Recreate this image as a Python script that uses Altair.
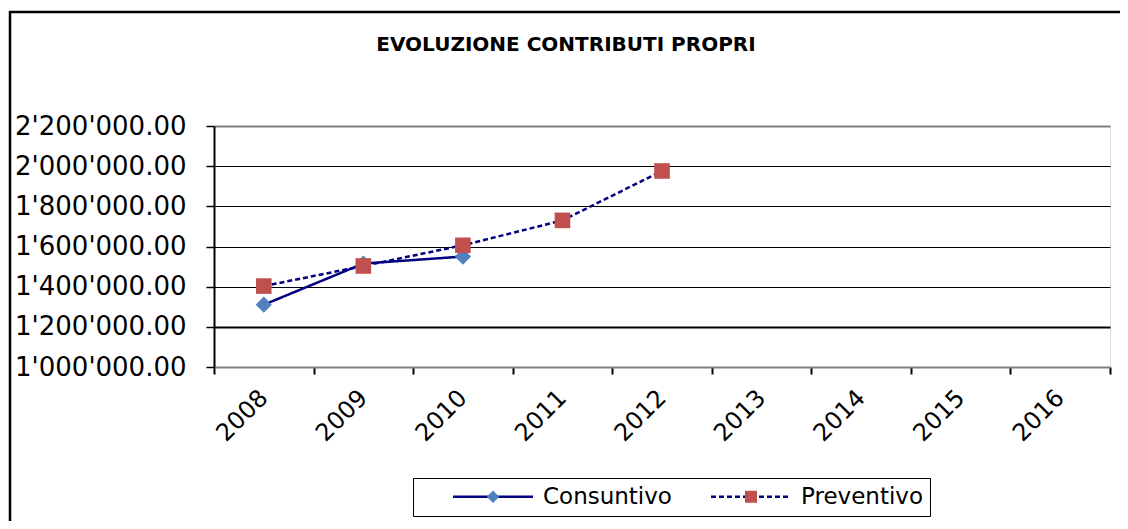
import altair as alt
import pandas as pd

years = ["2008", "2009", "2010", "2011", "2012", "2013", "2014", "2015", "2016"]
cons_years = ["2008", "2009", "2010"]
cons_values = [1310000, 1515000, 1550000]
prev_years = ["2008", "2009", "2010", "2011", "2012"]
prev_values = [1403000, 1503000, 1606000, 1730000, 1976000]
series_names = ["Consuntivo", "Preventivo"]
y_ticks = [1000000, 1200000, 1400000, 1600000, 1800000, 2000000, 2200000]
title_text = "EVOLUZIONE CONTRIBUTI PROPRI"

rows = []
for y, v in zip(cons_years, cons_values):
    rows.append({"anno": y, "valore": v, "serie": "Consuntivo"})
for y, v in zip(prev_years, prev_values):
    rows.append({"anno": y, "valore": v, "serie": "Preventivo"})
df = pd.DataFrame(rows)
df["serie2"] = df["serie"]

FONT = "DejaVu Sans"
NAVY = "#000080"

x_enc = alt.X("anno:N", scale=alt.Scale(domain=years, paddingInner=0, paddingOuter=0),
              axis=alt.Axis(title=None, labelAngle=-45, labelAlign="right", labelBaseline="middle",
                            labelFont=FONT, labelFontSize=24, labelColor="black", labelPadding=20,
                            tickBand="extent", tickColor="black", tickWidth=2, tickSize=7,
                            domainColor="#808080", domainWidth=2, grid=False))
y_enc = alt.Y("valore:Q", scale=alt.Scale(domain=[1000000, 2200000], nice=False, zero=False),
              axis=alt.Axis(title=None, values=y_ticks,
                            labelExpr="replace(format(datum.value, ',.2f'), /,/g, \"'\")",
                            labelFont=FONT, labelFontSize=26, labelColor="black", labelPadding=20,
                            tickColor="black", tickWidth=1.5, tickSize=8,
                            domainColor="black", domainWidth=2,
                            grid=True,
                            gridColor={"condition": {"test": "datum.value == 1000000 || datum.value == 2200000", "value": "#808080"}, "value": "black"},
                            gridWidth={"condition": {"test": "datum.value == 1200000 || datum.value == 2200000", "value": 2}, "value": 1},
                            gridOpacity=1))

frame = alt.Chart(pd.DataFrame({"k": [0]})).mark_rect(
    fill="white", fillOpacity=0, stroke="black", strokeWidth=2.5
).encode(x=alt.value(-204), x2=alt.value(1400), y=alt.value(-114), y2=alt.value(1000))

LEG_X, LEG_Y = 199, 352
common_leg = dict(orient="none", legendX=LEG_X, legendY=LEG_Y, direction="horizontal", title=None,
                  labelFont=FONT, labelFontSize=23, labelColor="black", labelBaseline="middle",
                  symbolStrokeWidth=2.5, symbolOffset=61.5, labelOffset=38.5,
                  columnPadding=6, padding=7)

lines = alt.Chart(df).mark_line(color=NAVY, strokeWidth=2.5).encode(
    x=x_enc, y=y_enc,
    strokeDash=alt.StrokeDash("serie:N", scale=alt.Scale(range=[[1, 0], [5, 3]]),
                              legend=alt.Legend(symbolType="M-8,0H8", symbolSize=100,
                                                symbolStrokeColor=NAVY, strokeColor="black",
                                                **common_leg))
)

diamond = "M0,-1.25L1.25,0L0,1.25L-1.25,0Z"
square = "M-1.2,-1.2H1.2V1.2H-1.2Z"
points = alt.Chart(df).mark_point(filled=True, size=169, strokeWidth=0, opacity=1).encode(
    x=x_enc, y=y_enc,
    shape=alt.Shape("serie2:N", scale=alt.Scale(range=[diamond, square]),
                    legend=alt.Legend(symbolSize=100, symbolStrokeColor="transparent",
                                      labelOpacity=0, **common_leg)),
    fill=alt.Fill("serie2:N", scale=alt.Scale(range=["#4F81BD", "#C0504D"]))
)

chart = alt.layer(frame, lines, points).properties(
    width=896, height=241,
    autosize=alt.AutoSizeParams(type="none"),
    padding={"left": 206, "top": 118, "right": 10, "bottom": 154},
    title=alt.TitleParams(title_text, font=FONT, fontSize=20, fontWeight="bold", color="black",
                          anchor="middle", frame="group", dx=-96, offset=-60, baseline="alphabetic")
).configure_view(stroke="#808080", strokeWidth=2.5).configure(background="white")

chart.save("out.html", embed_options={"renderer": "svg", "actions": False})
